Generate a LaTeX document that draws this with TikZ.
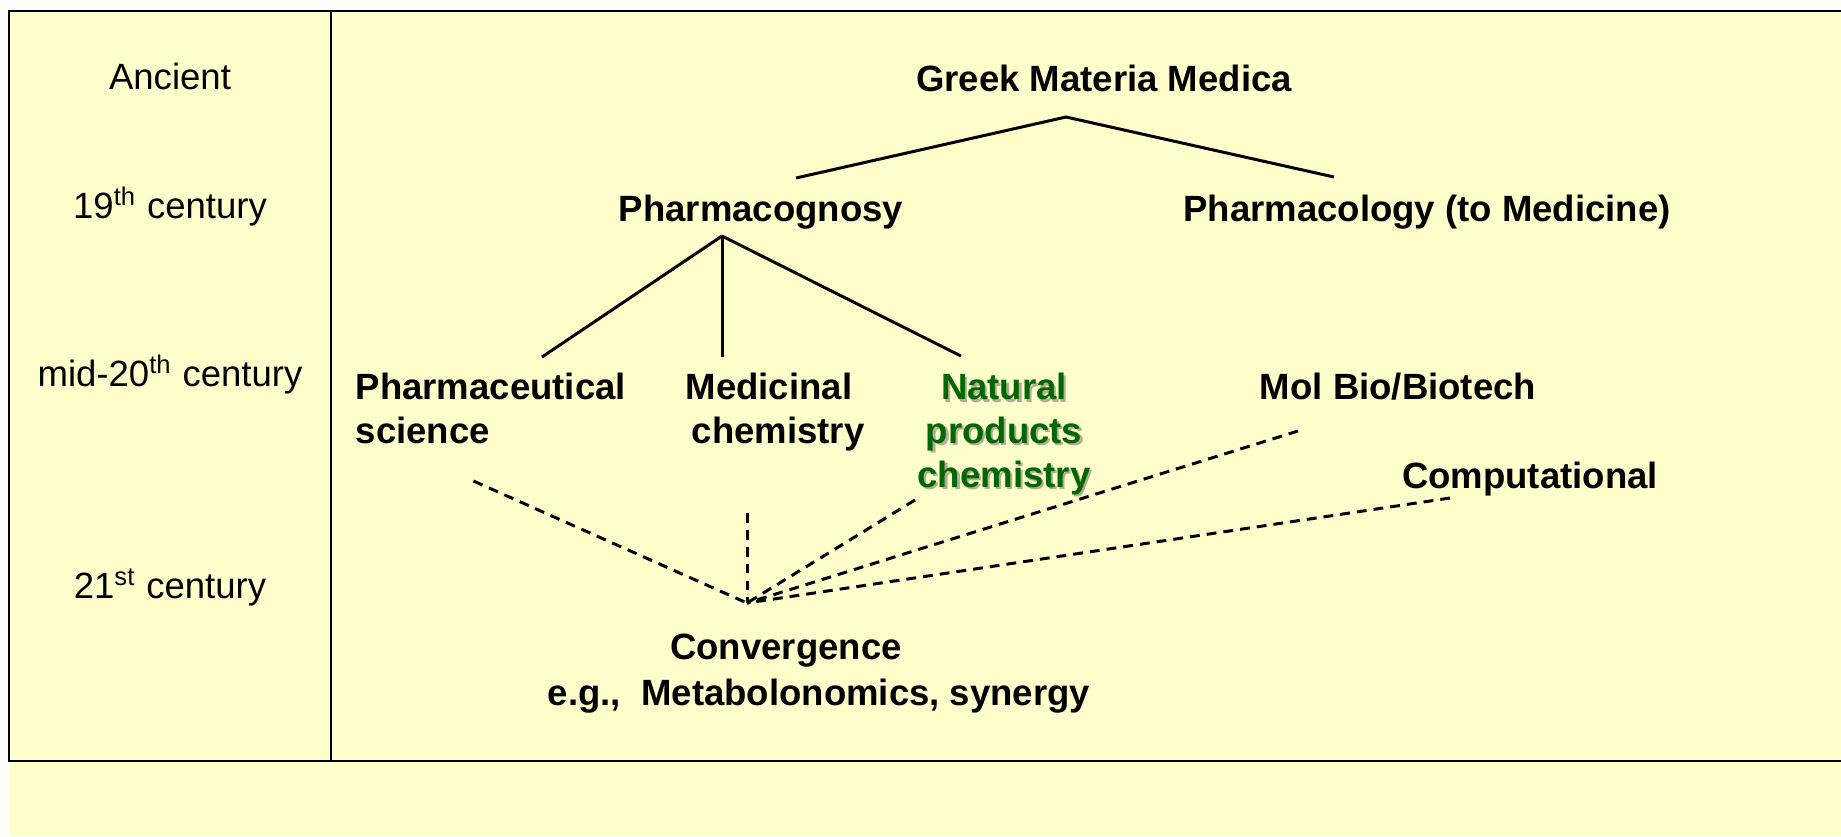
\documentclass[tikz,border=0pt]{standalone}
\usepackage{fontspec}
\setmainfont{Liberation Sans}
\definecolor{paleYellow}{RGB}{255,255,204}
\definecolor{darkGreen}{RGB}{0,102,0}
\definecolor{shadowGray}{RGB}{175,175,150}
\newcommand{\shadowed}[1]{\makebox[0pt][l]{\hspace{0.06em}\raisebox{-0.06em}{\color{shadowGray}#1}}#1}

\begin{document}
\begin{tikzpicture}[
        era/.style={anchor=base, inner sep=0pt, font=\fontsize{10.4pt}{12.4pt}\selectfont},
        field/.style={anchor=base, inner sep=0pt, font=\fontsize{10.4pt}{12.4pt}\selectfont\bfseries},
        tree/.style={line width = 0.85pt},
        merge/.style={line width = 0.85pt, dash pattern=on 2.8pt off 2pt}
    ]
        \useasboundingbox (0,0) rectangle (18.41,-8.36);

        % background and table
        \fill[paleYellow] (0.09,-0.11) rectangle (18.41,-8.36);
        \draw[line width = 0.75pt] (18.41,-0.11) -- (0.09,-0.11) -- (0.09,-7.61) -- (18.41,-7.61);
        \draw[line width = 0.75pt] (3.31,-0.11) -- (3.31,-7.61);

        % eras
        \node[era] (ancient) at (1.70,-0.89) {Ancient};
        \node[era] (c19) at (1.70,-2.18) {19\textsuperscript{th} century};
        \node[era] (c20) at (1.70,-3.86) {mid-20\textsuperscript{th} century};
        \node[era] (c21) at (1.70,-5.98) {21\textsuperscript{st} century};

        % fields (base of a stacked node = its last line)
        \node[field] (greek) at (11.04,-0.91) {Greek Materia Medica};
        \node[field] (pgnosy) at (7.61,-2.21) {Pharmacognosy};
        \node[field] (pology) at (14.27,-2.21) {Pharmacology (to Medicine)};
        \node[field, anchor=base west, align=left] (pharmsci) at (3.55,-4.43) {Pharmaceutical\\science};
        \node[field, anchor=base west, align=left] (medchem) at (6.85,-4.43) {Medicinal\\\hspace{0.06cm}chemistry};
        \node[field, align=center, text=darkGreen] (natprod) at (10.04,-4.87)
            {\shadowed{Natural}\\\shadowed{products}\\\shadowed{chemistry}};
        \node[field] (molbio) at (13.98,-3.99) {Mol Bio/Biotech};
        \node[field] (comput) at (15.30,-4.88) {Computational};
        \node[field] (conv) at (7.86,-6.59) {Convergence};
        \node[field] (eg) at (8.19,-7.05) {e.g.,\ \ Metabolonomics, synergy};

        % junctions
        \coordinate (greek-j) at (10.66,-1.17);
        \coordinate (pgnosy-j) at (7.22,-2.36);
        \coordinate (conv-j) at (7.47,-6.03);

        % tree ends
        \coordinate (pgnosy-t) at (7.96,-1.78);
        \coordinate (pology-t) at (13.34,-1.77);
        \coordinate (pharmsci-t) at (5.42,-3.57);
        \coordinate (medchem-t) at (7.22,-3.57);
        \coordinate (natprod-t) at (9.61,-3.56);

        % merge ends
        \coordinate (pharmsci-b) at (4.735,-4.81);
        \coordinate (medchem-b) at (7.47,-5.13);
        \coordinate (natprod-b) at (9.15,-5.00);
        \coordinate (molbio-b) at (12.98,-4.31);
        \coordinate (comput-b) at (14.50,-4.98);

        % solid tree
        \draw[tree] (pgnosy-t) -- (greek-j) -- (pology-t);
        \foreach \f in {pharmsci,medchem,natprod}
            \draw[tree] (pgnosy-j) -- (\f-t);

        % dashed convergence
        \foreach \f in {pharmsci,medchem,natprod,molbio,comput}
            \draw[merge] (\f-b) -- (conv-j);

    \end{tikzpicture}
\end{document}
